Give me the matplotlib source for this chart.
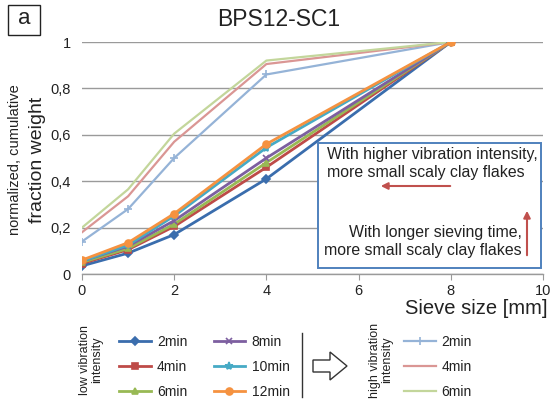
import matplotlib
matplotlib.use("Agg")
import matplotlib.pyplot as plt
from matplotlib.patches import Rectangle, Polygon

plt.rcParams['font.family'] = ['Liberation Sans', 'DejaVu Sans']

sieve = [0, 1, 2, 4, 8]
low_labels = ["2min", "4min", "6min", "8min", "10min", "12min"]
low_values = [
    [0.035, 0.090, 0.170, 0.410, 1.0],
    [0.045, 0.105, 0.205, 0.460, 1.0],
    [0.050, 0.110, 0.215, 0.480, 1.0],
    [0.055, 0.120, 0.230, 0.500, 1.0],
    [0.055, 0.125, 0.250, 0.545, 1.0],
    [0.060, 0.135, 0.260, 0.560, 1.0],
]
high_labels = ["2min", "4min", "6min"]
high_values = [
    [0.140, 0.280, 0.500, 0.860, 1.0],
    [0.180, 0.335, 0.570, 0.905, 1.0],
    [0.200, 0.365, 0.605, 0.920, 1.0],
]
xticks = [0, 2, 4, 6, 8, 10]
yticks = [0, 0.2, 0.4, 0.6, 0.8, 1.0]
ytick_labels = ["0", "0,2", "0,4", "0,6", "0,8", "1"]

low_colors = ["#3A6DAD", "#BE4B48", "#98B954", "#7D5FA0", "#46AAC5", "#F59240"]
low_markers = ["D", "s", "^", "x", "*", "o"]
low_msize = [4, 5, 5, 5, 6, 5]
high_colors = ["#95B3D7", "#DA9694", "#C3D69B"]
high_markers = ["+", None, None]

W, H = 550, 404
fig = plt.figure(figsize=(W / 100, H / 100), dpi=100)
ax = fig.add_axes([82 / W, 1 - 274 / H, (543 - 82) / W, (274 - 42) / H])

for vals, c, lab, m in zip(high_values, high_colors, high_labels, high_markers):
    ax.plot(sieve, vals, color=c, lw=1.6, marker=m, ms=6, mew=1.2, label=lab, zorder=3)
for vals, c, lab, m, s in zip(low_values, low_colors, low_labels, low_markers, low_msize):
    ax.plot(sieve, vals, color=c, lw=2.0, marker=m, ms=s, mew=1.2, label=lab, zorder=4)

ax.set_xlim(0, 10)
ax.set_ylim(0, 1)
ax.set_xticks(xticks)
ax.set_xticklabels([str(t) for t in xticks])
ax.set_yticks(yticks)
ax.set_yticklabels(ytick_labels)
ax.tick_params(axis='x', length=4, color='#999999', labelsize=10.5, pad=3, labelcolor='#222222')
ax.tick_params(axis='y', length=0, labelsize=10.5, pad=8, labelcolor='#222222')
ax.grid(axis='y', color='#9a9a9a', lw=1.0)
ax.set_axisbelow(True)
for sp in ['top', 'right', 'left']:
    ax.spines[sp].set_visible(False)
ax.spines['bottom'].set_color('#9a9a9a')
ax.spines['bottom'].set_linewidth(1.0)

# overlay in pixel coordinates for decorations
ov = fig.add_axes([0, 0, 1, 1], zorder=10)
ov.set_xlim(0, W)
ov.set_ylim(H, 0)
ov.axis('off')
ov.patch.set_alpha(0)

ov.add_patch(Rectangle((8, 5), 32, 30, fill=False, ec='#222222', lw=1.0))
ov.text(24, 19, "a", fontsize=16, ha='center', va='center', color='#222222')
ov.text(279, 20, "BPS12-SC1", fontsize=16.5, ha='center', va='center', color='#222222')
ov.text(15, 160, "normalized, cumulative", fontsize=10.5, rotation=90, ha='center', va='center', color='#222222')
ov.text(37, 160, "fraction weight", fontsize=14, rotation=90, ha='center', va='center', color='#222222')
ov.text(476, 308, "Sieve size [mm]", fontsize=14.5, ha='center', va='center', color='#222222')

# annotation box
ov.add_patch(Rectangle((318, 143), 223, 125, fill=True, fc='white', ec='#4F81BD', lw=1.4))
ov.text(327, 155, "With higher vibration intensity,", fontsize=11.4, ha='left', va='center', color='#222222')
ov.text(327, 173, "more small scaly clay flakes", fontsize=11.4, ha='left', va='center', color='#222222')
ov.annotate("", xy=(378, 186), xytext=(453, 186),
            arrowprops=dict(arrowstyle='-|>', color='#C0504D', lw=1.5, mutation_scale=10))
ov.text(522, 232, "With longer sieving time,", fontsize=11.4, ha='right', va='center', color='#222222')
ov.text(522, 250, "more small scaly clay flakes", fontsize=11.4, ha='right', va='center', color='#222222')
ov.annotate("", xy=(527, 208), xytext=(527, 258),
            arrowprops=dict(arrowstyle='-|>', color='#C0504D', lw=1.5, mutation_scale=10))

# legends
hs, ls = ax.get_legend_handles_labels()
high_h, low_h = hs[:3], hs[3:]
leg1 = fig.legend(low_h, low_labels, loc='upper left', bbox_to_anchor=(113 / W, 1 - 329 / H),
                  ncol=2, frameon=False, fontsize=10, handlelength=2.3, labelspacing=0.8,
                  columnspacing=1.9, handletextpad=0.45, borderaxespad=0)
leg2 = fig.legend(high_h, high_labels, loc='upper left', bbox_to_anchor=(398 / W, 1 - 329 / H),
                  ncol=1, frameon=False, fontsize=10, handlelength=2.3, labelspacing=0.8,
                  handletextpad=0.45, borderaxespad=0)
for lg in (leg1, leg2):
    for t in lg.get_texts():
        t.set_color('#222222')

ov.text(91, 360, "low vibration\nintensity", fontsize=9, rotation=90, ha='center', va='center',
        color='#222222', linespacing=1.0)
ov.text(381, 360, "high vibration\nintensity", fontsize=9, rotation=90, ha='center', va='center',
        color='#222222', linespacing=1.0)
ov.plot([302, 302], [333, 397], color='#333333', lw=1.0)
ov.add_patch(Polygon([(313, 360), (330, 360), (330, 352), (347, 366), (330, 380), (330, 372), (313, 372)],
                     closed=True, fill=False, ec='#333333', lw=1.0))

fig.savefig("out.png", dpi=100)
